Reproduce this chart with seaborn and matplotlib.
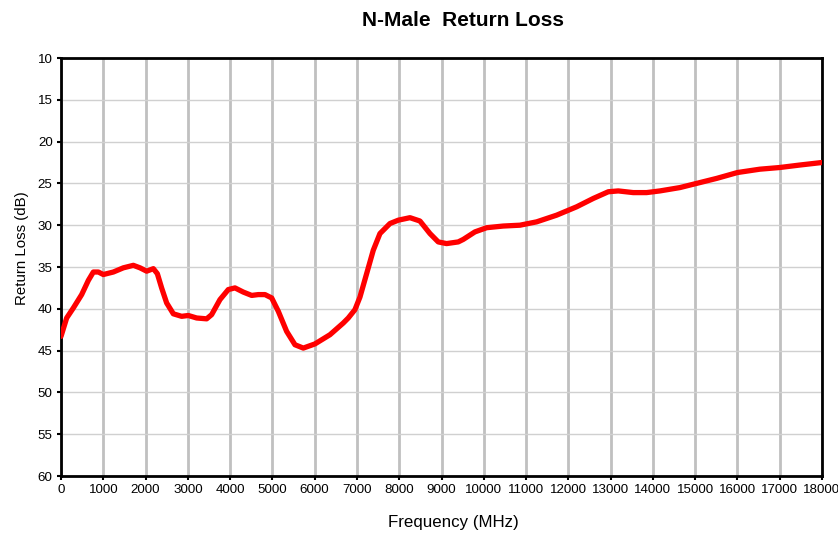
import matplotlib
matplotlib.use("Agg")
import matplotlib.pyplot as plt
import seaborn as sns
import pandas as pd

freq_mhz = [0, 134, 292, 489, 647, 765, 883, 1001, 1238, 1474, 1711, 1869, 2026, 2184,
            2279, 2380, 2499, 2657, 2854, 3011, 3209, 3445, 3563, 3760, 3957, 4115, 4312,
            4510, 4667, 4825, 4983, 5140, 5337, 5534, 5731, 6007, 6362, 6677, 6795, 6953,
            7071, 7229, 7386, 7544, 7781, 7978, 8254, 8490, 8727, 8923, 9120, 9396, 9515,
            9791, 10068, 10461, 10855, 11250, 11723, 12196, 12590, 12945, 13181, 13535,
            13851, 14166, 14639, 15034, 15510, 16000, 16530, 17000, 17480, 18000]
return_loss_db = [43.3, 41.1, 39.9, 38.3, 36.6, 35.6, 35.6, 35.9, 35.6, 35.1, 34.8, 35.1,
                  35.5, 35.2, 35.8, 37.5, 39.3, 40.6, 40.9, 40.8, 41.1, 41.2, 40.7, 38.9,
                  37.7, 37.5, 38.0, 38.4, 38.3, 38.3, 38.7, 40.3, 42.7, 44.3, 44.7, 44.2,
                  43.1, 41.7, 41.1, 40.1, 38.6, 35.8, 33.0, 31.0, 29.8, 29.4, 29.1, 29.5,
                  31.0, 32.0, 32.2, 32.0, 31.7, 30.8, 30.3, 30.1, 30.0, 29.6, 28.8, 27.8,
                  26.8, 26.0, 25.9, 26.1, 26.1, 25.9, 25.5, 25.0, 24.4, 23.7, 23.3, 23.1,
                  22.8, 22.5]
x_ticks = list(range(0, 18001, 1000))
y_ticks = list(range(10, 61, 5))

df = pd.DataFrame({"freq": freq_mhz, "rl": return_loss_db})

sns.set_style("white")
plt.rcParams["font.family"] = ["Liberation Sans", "DejaVu Sans"]
plt.rcParams["text.color"] = "black"
plt.rcParams["axes.labelcolor"] = "black"
plt.rcParams["xtick.color"] = "black"
plt.rcParams["ytick.color"] = "black"

fig = plt.figure(figsize=(8.38, 5.36), dpi=100)
ax = fig.add_axes([61 / 838, 1 - 476 / 536, (822 - 61) / 838, (476 - 58) / 536])

sns.lineplot(data=df, x="freq", y="rl", ax=ax, color="#ff0000", linewidth=3.8,
             solid_capstyle="round", solid_joinstyle="round", zorder=5)

ax.set_xlim(0, 18000)
ax.set_ylim(60, 10)
ax.set_xticks(x_ticks)
ax.set_yticks(y_ticks)
ax.set_xticklabels([str(t) for t in x_ticks], fontsize=9.6)
ax.set_yticklabels([str(t) for t in y_ticks], fontsize=9.6)

ax.xaxis.grid(True, color="#c0c0c0", linewidth=2.0)
ax.yaxis.grid(True, color="#d0d0d0", linewidth=1.0)
ax.set_axisbelow(True)

for s in ax.spines.values():
    s.set_visible(True)
    s.set_color("black")
    s.set_linewidth(2.0)

ax.tick_params(axis="both", direction="out", length=3, width=1.5, color="black",
               bottom=True, left=True, pad=3)

ax.set_xlabel("Frequency (MHz)", fontsize=12.2, va="center")
ax.set_ylabel("Return Loss (dB)", fontsize=10.8, va="center")
ax.xaxis.set_label_coords((453.5 - 61) / 761, (476 - 523) / 418)
ax.yaxis.set_label_coords((22 - 61) / 761, (476 - 248) / 418)

fig.text(463 / 838, 1 - 21 / 536, "N-Male  Return Loss", ha="center", va="center",
         fontsize=15, fontweight="bold")

fig.savefig("out.png", dpi=100)
